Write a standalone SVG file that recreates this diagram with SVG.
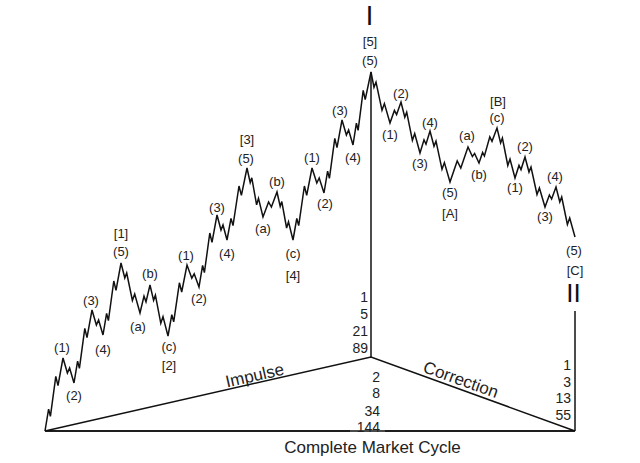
<svg xmlns="http://www.w3.org/2000/svg" width="640" height="463" viewBox="0 0 640 463">
<style>
.ln{fill:none;stroke:#111;stroke-width:1.5;stroke-linejoin:miter}
.lb{font-family:"Liberation Sans",Arial,sans-serif;font-size:13px;fill:#222;text-anchor:middle}
.num{font-family:"Liberation Sans",Arial,sans-serif;font-size:14px;fill:#222;text-anchor:end}
.big{font-family:"Liberation Sans",Arial,sans-serif;fill:#111;text-anchor:middle}
.axt{font-family:"Liberation Sans",Arial,sans-serif;font-size:17px;fill:#222;text-anchor:middle}
</style>
<rect width="640" height="463" fill="#fff"/>
<g id="connectors">
<path class="ln" d="M45,431 L371,357 L575,431 Z" fill="none"/>
<path class="ln" d="M45,431 H350 M385,431 H575"/>
<path class="ln" d="M371,72 V357"/>
<path class="ln" d="M575,311 V431"/>
</g>
<g id="wave">
<path class="ln" d="M45,431 L48.6,409.1 L50.4,416.4 L55.8,376.3 L58,385.7 L63,358 L67.4,373 L69.6,368 L74,383 L77.6,361.1 L79.4,368.4 L84.8,328.3 L87,337.7 L92,310 L96.4,325 L98.6,320 L103,335 L106.6,313.4 L108.4,320.6 L113.8,281 L116,290.4 L121,263 L124.8,278 L126.7,273 L132.4,300.5 L134.7,294 L140,313 L144,296.2 L146,301.8 L150,285 L153.6,300.3 L155.4,295.2 L160.8,323.3 L163,316.6 L168,336 L171.8,314.7 L173.7,321.8 L179.4,282.8 L181.7,292 L187,265 L191.8,278.2 L194.2,273.8 L199,287 L202.6,265.4 L204.4,272.6 L209.8,233 L212,242.4 L217,215 L221,230 L223,225 L227,240 L231,218.4 L233,225.6 L239,186 L241.4,195.4 L247,168 L250.2,182.7 L251.8,177.8 L256.6,204.8 L258.5,198.4 L263,217 L268.6,202 L271.4,207 L277,192 L280.2,206.4 L281.8,201.6 L286.6,228 L288.5,221.8 L293,240 L296.8,218.4 L298.7,225.6 L304.4,186 L306.7,195.4 L312,168 L316.8,183 L319.2,178 L324,193 L327.6,171.1 L329.4,178.4 L334.8,138.3 L337,147.7 L342,120 L346.4,135 L348.6,130 L353,145 L356.4,123.1 L358.1,130.4 L363.2,90.3 L365.2,99.7 L371,72 L374,87.3 L376,82.2 L382,110.3 L384.4,103.6 L390,123 L394.4,110.4 L396.6,114.6 L401,102 L404.8,117.3 L406.7,112.2 L412.4,140.3 L414.7,133.6 L420,153 L424,139.8 L426,144.2 L430,131 L434,146.3 L436,141.2 L442,169.3 L444.4,162.6 L450,182 L457.2,161 L460.8,168 L468,147 L472.4,156.6 L474.6,153.4 L479,163 L482.6,152.5 L484.4,156 L489.8,136.8 L492,141.3 L497,128 L500.6,143 L502.4,138 L507.8,165.5 L510,159 L515,178 L519,165.4 L521,169.6 L525,157 L529,172 L531,167 L537,194.5 L539.4,188 L545,207 L549.4,195 L551.6,199 L556,187 L559.8,202 L561.7,197 L567.4,224.5 L569.7,218 L575,237"/>
</g>
<g id="wave-labels">
<text class="lb" x="62" y="351.5">(1)</text>
<text class="lb" x="74" y="399.5">(2)</text>
<text class="lb" x="91" y="304.5">(3)</text>
<text class="lb" x="103" y="353.5">(4)</text>
<text class="lb" x="121" y="255.5">(5)</text>
<text class="lb" x="121" y="237.5">[1]</text>
<text class="lb" x="138" y="330.5">(a)</text>
<text class="lb" x="150" y="277.5">(b)</text>
<text class="lb" x="169" y="350.5">(c)</text>
<text class="lb" x="169" y="369.5">[2]</text>
<text class="lb" x="186" y="259.5">(1)</text>
<text class="lb" x="199" y="302.5">(2)</text>
<text class="lb" x="217" y="211.5">(3)</text>
<text class="lb" x="227" y="257.5">(4)</text>
<text class="lb" x="246" y="162.5">(5)</text>
<text class="lb" x="247" y="143.5">[3]</text>
<text class="lb" x="263" y="232.5">(a)</text>
<text class="lb" x="277" y="185.5">(b)</text>
<text class="lb" x="293" y="257.5">(c)</text>
<text class="lb" x="293" y="279.5">[4]</text>
<text class="lb" x="312" y="161.5">(1)</text>
<text class="lb" x="325" y="207.5">(2)</text>
<text class="lb" x="340" y="114.5">(3)</text>
<text class="lb" x="353" y="161.5">(4)</text>
<text class="lb" x="370" y="64.5">(5)</text>
<text class="lb" x="370" y="45.5">[5]</text>
<text class="lb" x="390" y="138.5">(1)</text>
<text class="lb" x="401" y="97.5">(2)</text>
<text class="lb" x="420" y="167.5">(3)</text>
<text class="lb" x="430" y="126.5">(4)</text>
<text class="lb" x="450" y="196.5">(5)</text>
<text class="lb" x="450" y="217.5">[A]</text>
<text class="lb" x="467" y="139.5">(a)</text>
<text class="lb" x="479" y="178.5">(b)</text>
<text class="lb" x="497" y="121.5">(c)</text>
<text class="lb" x="498" y="105.5">[B]</text>
<text class="lb" x="515" y="191.5">(1)</text>
<text class="lb" x="525" y="150.5">(2)</text>
<text class="lb" x="545" y="220.5">(3)</text>
<text class="lb" x="555" y="180.5">(4)</text>
<text class="lb" x="574" y="254.5">(5)</text>
<text class="lb" x="575" y="274.5">[C]</text>
<text class="big" x="369.5" y="25" font-size="27">I</text>
<text class="big" x="573.5" y="302" font-size="26">II</text>
</g>
<g id="counts">
<text class="num" x="368" y="302">1</text>
<text class="num" x="368" y="319">5</text>
<text class="num" x="368" y="336">21</text>
<text class="num" x="368" y="353">89</text>
<text class="num" x="380" y="381.5">2</text>
<text class="num" x="380" y="398">8</text>
<text class="num" x="380" y="415.5">34</text>
<text class="num" x="380" y="432">144</text>
<text class="num" x="571" y="370">1</text>
<text class="num" x="571" y="386.5">3</text>
<text class="num" x="571" y="403">13</text>
<text class="num" x="571" y="420">55</text>
</g>
<g id="axis-labels">
<text class="axt" transform="translate(256,381) rotate(-12.75)" x="0" y="0">Impulse</text>
<text class="axt" transform="translate(459,385) rotate(19.69)" x="0" y="0">Correction</text>
<text class="axt" x="372.5" y="453" font-size="17.5">Complete Market Cycle</text>
</g>
</svg>
